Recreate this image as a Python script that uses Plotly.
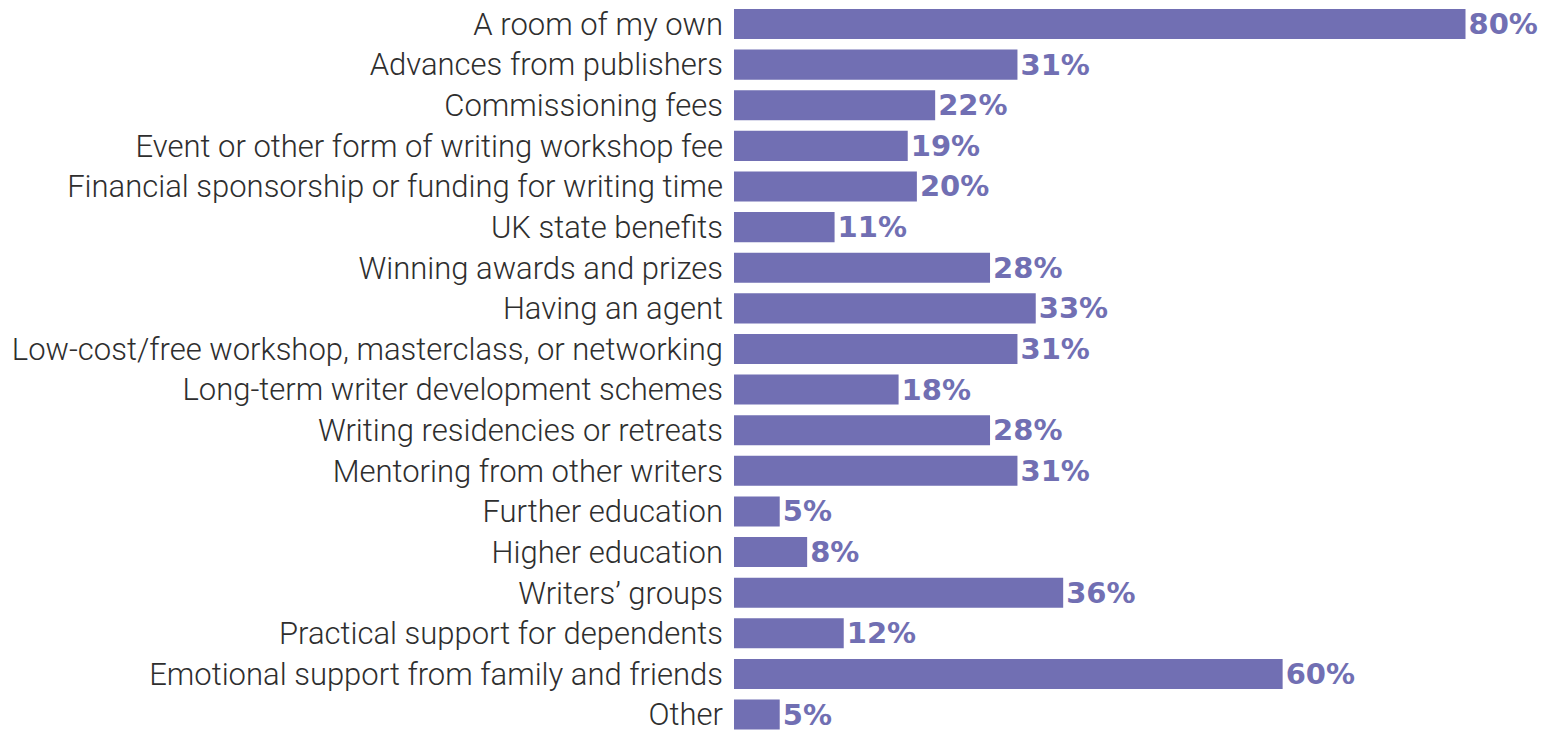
import plotly.graph_objects as go

categories = [
    "A room of my own",
    "Advances from publishers",
    "Commissioning fees",
    "Event or other form of writing workshop fee",
    "Financial sponsorship or funding for writing time",
    "UK state benefits",
    "Winning awards and prizes",
    "Having an agent",
    "Low-cost/free workshop, masterclass, or networking",
    "Long-term writer development schemes",
    "Writing residencies or retreats",
    "Mentoring from other writers",
    "Further education",
    "Higher education",
    "Writers’ groups",
    "Practical support for dependents",
    "Emotional support from family and friends",
    "Other",
]
values = [80, 31, 22, 19, 20, 11, 28, 33, 31, 18, 28, 31, 5, 8, 36, 12, 60, 5]
value_labels = [f"{v}%" for v in values]

BAR = "#716fb3"

fig = go.Figure(
    go.Bar(
        x=values,
        y=categories,
        orientation="h",
        marker=dict(color=BAR, line=dict(width=0)),
        text=value_labels,
        textposition="outside",
        constraintext="none",
        textfont=dict(family="DejaVu Sans", size=29, color=BAR, weight=700),
        cliponaxis=False,
        hoverinfo="skip",
    )
)

# page body adds an 8px offset, so the figure is sized to fit inside the window
fig.update_layout(
    width=1544,
    height=725,
    margin=dict(l=726, r=0, t=0, b=0),
    paper_bgcolor="white",
    plot_bgcolor="white",
    bargap=0.26,
    showlegend=False,
    xaxis=dict(range=[0, 89.46], visible=False),
    yaxis=dict(
        type="category",
        range=[17.454, -0.394],
        showgrid=False,
        zeroline=False,
        showline=False,
        ticks="",
        ticklabelstandoff=10,
        automargin=False,
        tickfont=dict(family="Roboto", size=31, color="#2e2e2e", weight=300),
    ),
)

fig.write_html("out.html")
